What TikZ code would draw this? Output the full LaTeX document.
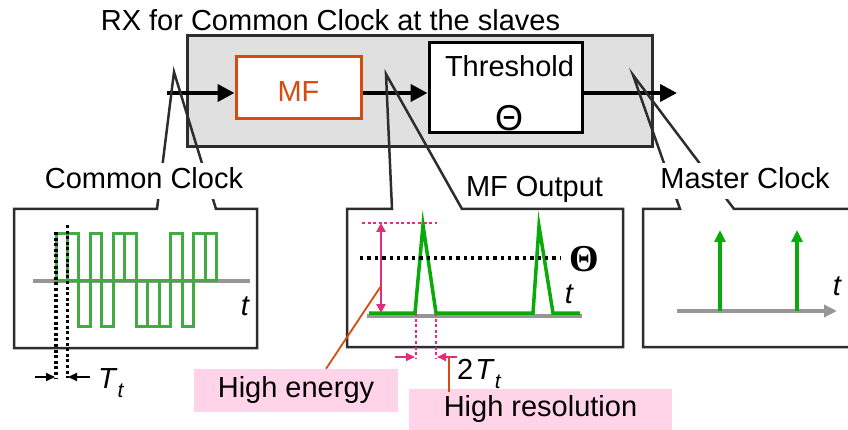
\documentclass[tikz,border=0pt]{standalone}
\usepackage{fontspec}
\setmainfont{Liberation Sans}
\newfontfamily\serifgreek{Liberation Serif}
\usetikzlibrary{arrows.meta,positioning,calc}
\definecolor{edge}{RGB}{45,45,45}
\definecolor{boxgray}{RGB}{224,224,224}
\definecolor{axisgray}{RGB}{150,150,150}
\definecolor{ccgreen}{RGB}{68,170,68}
\definecolor{mfgreen}{RGB}{10,170,10}
\definecolor{mforange}{RGB}{215,75,15}
\definecolor{hlpink}{RGB}{255,211,232}
\definecolor{hlmag}{RGB}{225,45,125}
\newcommand{\Tt}{\textit{T}\raisebox{-9pt}{\fontsize{21}{21}\selectfont\textit{t}}}

\begin{document}
\begin{tikzpicture}[x=1pt, y=-1pt,
  every node/.style={font=\fontsize{29}{33}\selectfont, inner sep=0pt},
  blk/.style={draw, line width=3pt, fill=white},
  sig/.style={-{Triangle[length=17pt,width=17pt]}, line width=4pt},
  call/.style={draw=edge, line width=2.5pt, line join=miter},
  tag/.style={fill=white, inner xsep=3pt, inner ysep=5pt, text depth=5pt},
  dots/.style={line width=3.2pt, line cap=butt, dash pattern=on 3pt off 2.6pt},
  chip/.style={draw=ccgreen, line width=3pt},
  hl/.style={fill=hlpink},
  lead/.style={draw=mforange, line width=1.8pt},
  tick/.style={line width=2pt, -{Triangle[length=9pt,width=8pt]}}]
  \useasboundingbox (0,0) rectangle (848,430);

  % receiver block
  \node[draw=edge, line width=3pt, fill=boxgray, minimum width=465pt,
        minimum height=111pt] (rx) at (419.5,91.5) {};
  \node[anchor=base] (title) at (330.5,31) {RX for Common Clock at the slaves};
  \node[blk, draw=mforange, text=mforange, minimum width=125pt, minimum height=62pt,
        text height=28pt, text depth=0pt] (mf) at (298.5,88) {MF};
  \node[blk, minimum width=153pt, minimum height=90pt] (thr) at (505.5,88) {};
  \node[anchor=base] (thrName) at (509.5,77) {Threshold};
  \node[anchor=base, font=\fontsize{36}{36}\selectfont] (thrSym) at (509,131) {Θ};
  \coordinate (in) at (167,93);
  \coordinate (out) at (677,93);
  \draw[sig] (in) -- (in -| mf.west);
  \draw[sig] (in -| mf.east) -- (in -| thr.west);
  \draw[sig] (in -| thr.east) -- (out);

  % callouts
  \coordinate (ccTip) at (174,72);
  \draw[call] (157,209) -- (ccTip) -- (216,209) -- (257,209) -- (257,348)
    -- (14,348) -- (14,209) -- cycle;
  \node[tag, anchor=base] (ccLabel) at (144,189) {Common Clock};
  \coordinate (mfTip) at (386,74);
  \draw[call] (392,209) -- (mfTip) -- (462,209) -- (623,209) -- (623,347)
    -- (347,347) -- (347,209) -- cycle;
  \node[anchor=base] (mfoLabel) at (534.5,197) {MF Output};
  \coordinate (mcTip) at (633,75);
  \draw[call] (870,347) -- (643,347) -- (643,209) -- (680,209) -- (mcTip)
    -- (734,209) -- (870,209);
  \node[tag, anchor=base] (mcLabel) at (745,189) {Master Clock};

  % common clock waveform
  \draw[axisgray, line width=4pt] (33,281) -- (250,281);
  \foreach \s [count=\i from 0] in {1,1,-1,1,-1,1,1,-1,-1,-1,1,-1,1,1}
    \draw[chip] ({56+11.48*\i},280) rectangle ++(11.48,{-46*\s});
  \draw[dots] (56,232) -- (56,378);
  \draw[dots] (67.3,225) -- (67.3,378);
  \draw[tick] (35,377) -- (55,377);
  \draw[tick] (90,377) -- (68,377);
  \node[anchor=base west] (ttLabel) at (98,388) {\Tt};
  \node[anchor=base] (ccT) at (245,315) {\itshape t};

  % MF output
  \draw[axisgray, line width=4pt] (367,316) -- (582,316);
  \draw[mfgreen, line width=3.5pt, line join=miter] (369,313) -- (415,313)
    -- (423,225) -- (436,313) -- (533,313) -- (539,226) -- (553,313) -- (580,313);
  \draw[dots, dash pattern=on 3.4pt off 4pt, line width=3.6pt] (360,258) -- (560,258);
  \node[anchor=base, font=\serifgreek\bfseries\fontsize{38}{38}\selectfont]
    (theta) at (584,271) {Θ};
  \node[anchor=base] (mfT) at (569,303) {\itshape t};
  \draw[dots, hlmag, line width=2.8pt] (362,223) -- (437,223);
  \draw[hlmag, line width=2.5pt,
        {Triangle[length=9pt,width=9pt]}-{Triangle[length=9pt,width=9pt]}]
    (381,223) -- (381,313);
  \draw[dots, hlmag, line width=2.8pt] (416,313) -- (416,359);
  \draw[dots, hlmag, line width=2.8pt] (436,313) -- (436,359);
  \draw[tick, hlmag] (395,357) -- (415,357);
  \draw[tick, hlmag] (457,357) -- (437,357);
  \node[anchor=base west] (twoTt) at (457,379) {2\hspace{2pt}\Tt};

  % master clock
  \draw[axisgray, line width=4pt, -{Triangle[length=13pt,width=12pt]}]
    (677,311) -- (837,311);
  \foreach \x in {720,797}
    \draw[mfgreen, line width=3.5pt, -{Triangle[length=12pt,width=11pt]}]
      (\x,311) -- (\x,230);
  \node[anchor=base] (mcT) at (837,295) {\itshape t};

  % notes
  \node[hl, minimum width=204pt, minimum height=43pt] (hen) at (296,390.5)
    {High energy};
  \node[hl, minimum width=263pt, minimum height=41pt] (hres) at (540.5,409.5)
    {High resolution};
  \coordinate (enMark) at (381,286);
  \draw[lead] (enMark) -- ([xshift=30pt]hen.north);
  \coordinate (resMark) at (449,358);
  \draw[lead] (resMark) -- ([yshift=-3pt]resMark |- hres.north);
\end{tikzpicture}
\end{document}
